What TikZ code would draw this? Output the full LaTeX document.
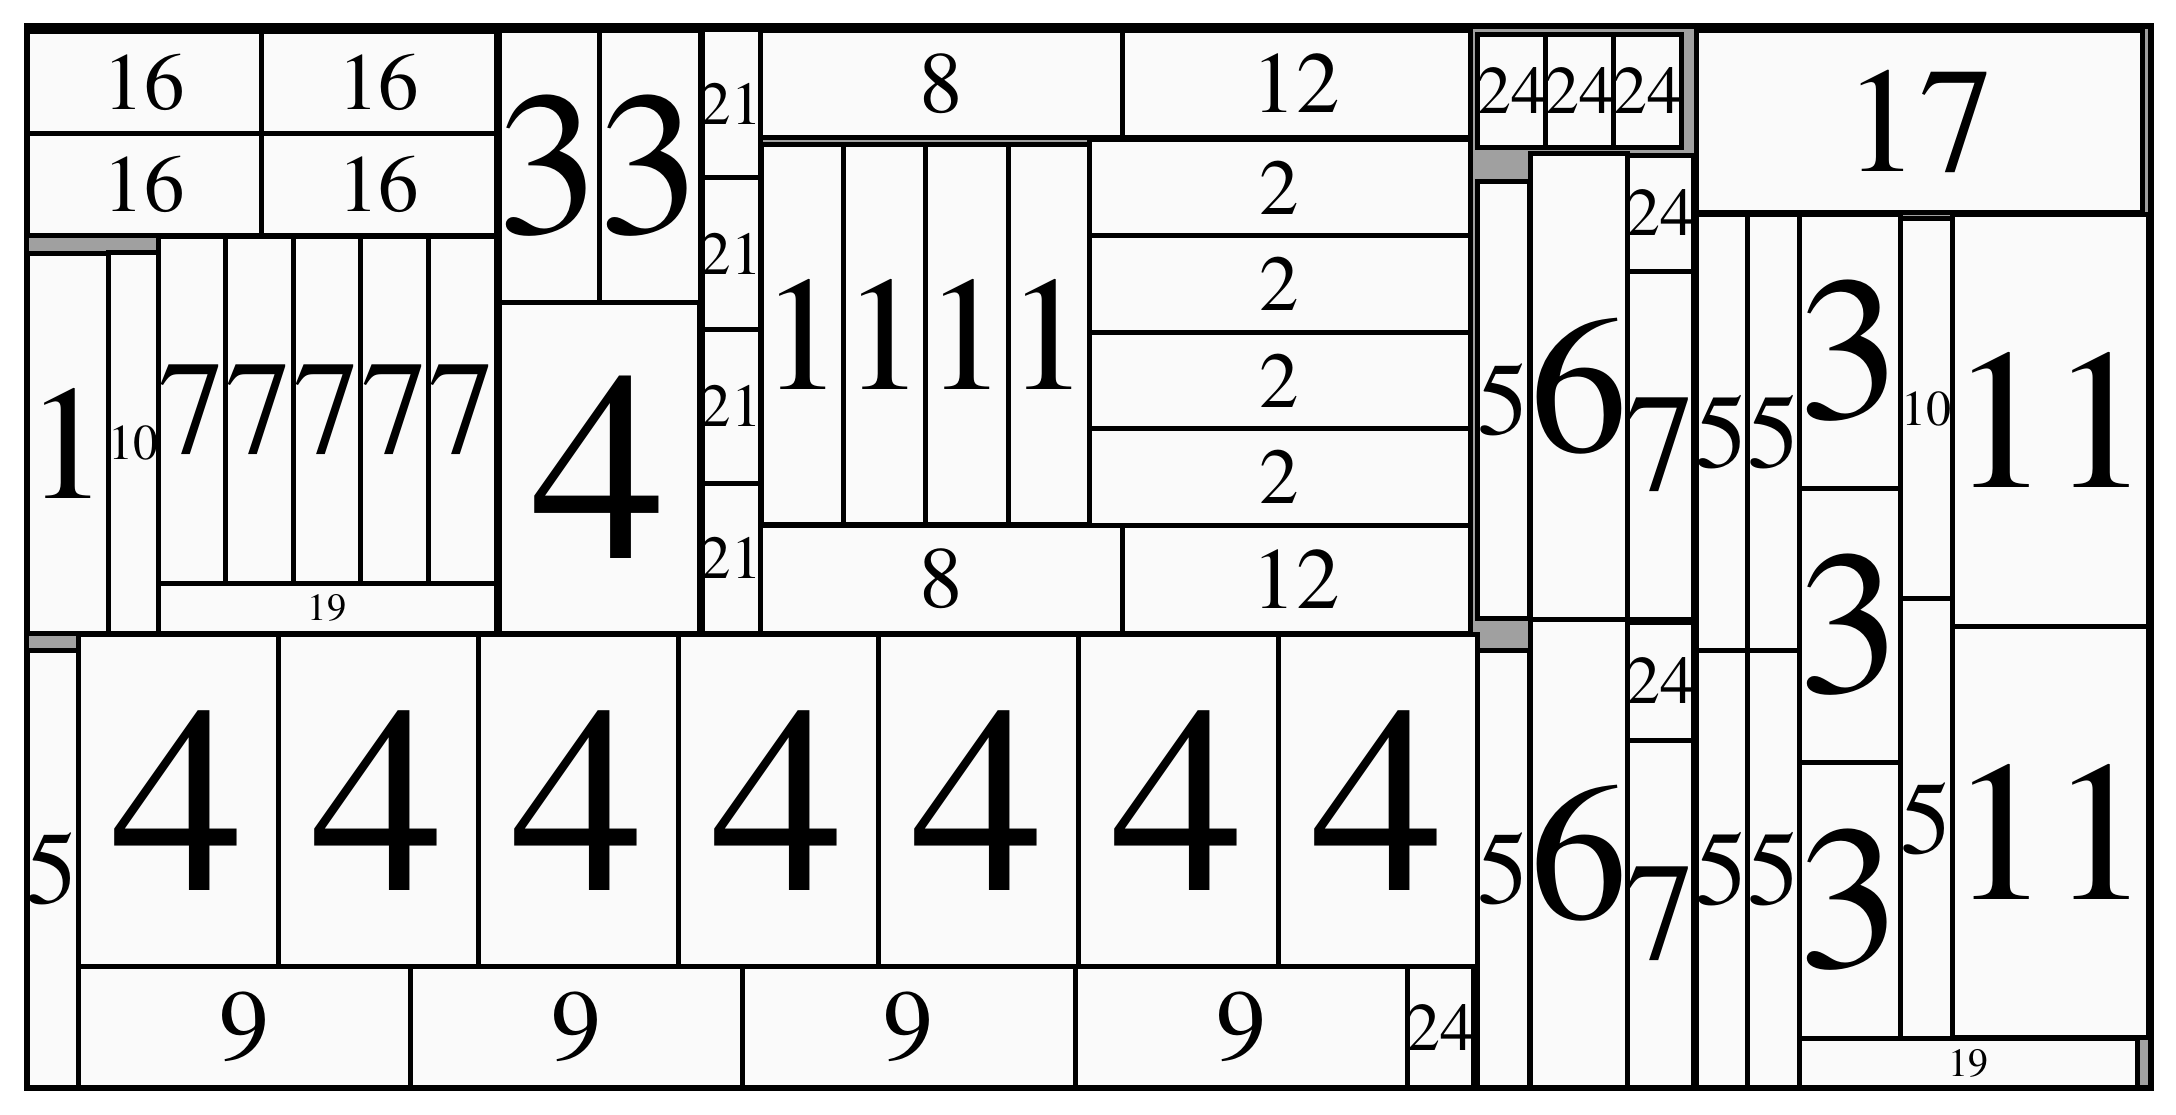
\documentclass[tikz,border=0pt]{standalone}
\usepackage{fontspec}
\setmainfont{texgyretermes-regular.otf}
\usepackage{xcolor}
\usepackage{tikz}
\definecolor{boxfill}{RGB}{250,250,250}
\definecolor{spare}{RGB}{160,160,160}

\begin{document}
\begin{tikzpicture}[
    x=1pt, y=-1pt,
    item/.style={
        % The box
        fill=boxfill,
        draw=black,
        line width=5pt},
    num/.style={
        % The number
        inner sep=0pt,
        font=\fontsize{#1}{#1}\selectfont}
  ]
  \useasboundingbox (0,0) rectangle (2176,1114);
  \fill[white] (0,0) rectangle (2176,1114);
  \fill[spare] (27,26.5) rectangle (2151,1088);%空余部分

  % left block
  \draw[item] (27,31.5) rectangle (261,133);
  \node (n16a) [num=81] at (144,82.3) {16};
  \draw[item] (261,31.5) rectangle (496,133);
  \node (n16b) [num=81] at (378.5,82.3) {16};
  \draw[item] (27,133) rectangle (261,235);
  \node (n16c) [num=81] at (144,184) {16};
  \draw[item] (261,133) rectangle (496,235);
  \node (n16d) [num=81] at (378.5,184) {16};
  \draw[item] (499,30) rectangle (599,302);
  \node (n3a) [num=205] at (549,166) {3};
  \draw[item] (599,30) rectangle (700,302);
  \node (n3b) [num=205] at (649.5,166) {3};
  \draw[item] (499,302) rectangle (699,633);
  \node (n4m) [num=270] at (599,467.5) {4};
  \draw[item] (702,29) rectangle (760,177.7);
  \node (n21a) [num=61] at (731,103.4) {21};
  \draw[item] (702,177.7) rectangle (760,329.5);
  \node (n21b) [num=61] at (731,253.6) {21};
  \draw[item] (702,329.5) rectangle (760,483);
  \node (n21c) [num=61] at (731,406.3) {21};
  \draw[item] (702,483) rectangle (760,633);
  \node (n21d) [num=61] at (731,558) {21};
  \draw[item] (27,253) rectangle (108,633);
  \node (n1l) [num=163] at (67.5,443) {1};
  \draw[item] (108,252) rectangle (158,633);
  \node (n10l) [num=50] at (133,442.5) {10};
  \draw[item] (158,236) rectangle (225.6,583);
  \node (n7a) [num=134] at (191.8,409.5) {7};
  \draw[item] (225.6,236) rectangle (293.2,583);
  \node (n7b) [num=134] at (259.4,409.5) {7};
  \draw[item] (293.2,236) rectangle (360.8,583);
  \node (n7c) [num=134] at (327,409.5) {7};
  \draw[item] (360.8,236) rectangle (428.4,583);
  \node (n7d) [num=134] at (394.6,409.5) {7};
  \draw[item] (428.4,236) rectangle (496,583);
  \node (n7e) [num=134] at (462.2,409.5) {7};
  \draw[item] (158,583) rectangle (496,633);
  \node (n19l) [num=38.5] at (327,608) {19};
  \draw[item] (27,650) rectangle (78,1088);
  \node (n5l) [num=103] at (52.5,869) {5};
  \draw[item] (78,634) rectangle (278,966.5);
  \node (n4a) [num=266] at (178,800.3) {4};
  \draw[item] (278,634) rectangle (478,966.5);
  \node (n4b) [num=266] at (378,800.3) {4};
  \draw[item] (478,634) rectangle (678,966.5);
  \node (n4c) [num=266] at (578,800.3) {4};
  \draw[item] (678,634) rectangle (878,966.5);
  \node (n4d) [num=266] at (778,800.3) {4};
  \draw[item] (878,634) rectangle (1078,966.5);
  \node (n4e) [num=266] at (978,800.3) {4};
  \draw[item] (1078,634) rectangle (1278,966.5);
  \node (n4f) [num=266] at (1178,800.3) {4};
  \draw[item] (1278,634) rectangle (1477,966.5);
  \node (n4g) [num=266] at (1377.5,800.3) {4};
  \draw[item] (78,966.5) rectangle (410,1088);
  \node (n9a) [num=100] at (244,1027) {9};
  \draw[item] (410,966.5) rectangle (742,1088);
  \node (n9b) [num=100] at (576,1027) {9};
  \draw[item] (742,966.5) rectangle (1075,1088);
  \node (n9c) [num=100] at (908.5,1027) {9};
  \draw[item] (1075,966.5) rectangle (1407,1088);
  \node (n9d) [num=100] at (1241,1027) {9};
  \draw[item] (1407,966.5) rectangle (1473,1088);
  \node (n24l) [num=68] at (1440,1027) {24};

  % middle block
  \draw[item] (760,30) rectangle (1122,137);
  \node (n8a) [num=87] at (941,83.5) {8};
  \draw[item] (1122,30) rectangle (1470,137);
  \node (n12a) [num=87] at (1296,83.5) {12};
  \draw[item] (761,144.6) rectangle (843,524);
  \node (n1a) [num=163] at (802,334.3) {1};
  \draw[item] (843,144.6) rectangle (925,524);
  \node (n1b) [num=163] at (884,334.3) {1};
  \draw[item] (925,144.6) rectangle (1008,524);
  \node (n1c) [num=163] at (966.5,334.3) {1};
  \draw[item] (1008,144.6) rectangle (1089,524);
  \node (n1d) [num=163] at (1048.5,334.3) {1};
  \draw[item] (1089,139) rectangle (1470,235.5);
  \node (n2a) [num=79] at (1279.5,187.3) {2};
  \draw[item] (1089,235.5) rectangle (1470,332);
  \node (n2b) [num=79] at (1279.5,283.8) {2};
  \draw[item] (1089,332) rectangle (1470,428.5);
  \node (n2c) [num=79] at (1279.5,380.3) {2};
  \draw[item] (1089,428.5) rectangle (1470,525);
  \node (n2d) [num=79] at (1279.5,476.8) {2};
  \draw[item] (760,525) rectangle (1122,633);
  \node (n8b) [num=87] at (941,579) {8};
  \draw[item] (1122,525) rectangle (1470,633);
  \node (n12b) [num=87] at (1296,579) {12};

  % right block
  \draw[item] (1477.6,34) rectangle (1545.6,147.5);
  \node (n24a) [num=68] at (1511.6,90.8) {24};
  \draw[item] (1545.6,34) rectangle (1613.7,147.5);
  \node (n24b) [num=68] at (1579.7,90.8) {24};
  \draw[item] (1613.7,34) rectangle (1681.8,147.5);
  \node (n24c) [num=68] at (1647.8,90.8) {24};
  \draw[item] (1477.6,181.4) rectangle (1529,618);
  \node (n5a) [num=103] at (1503.3,399.7) {5};
  \draw[item] (1530.6,153) rectangle (1627,619);
  \node (n6a) [num=195] at (1578.8,386) {6};
  \draw[item] (1627,155) rectangle (1693.5,271);
  \node (n24d) [num=68] at (1660.3,213) {24};
  \draw[item] (1627,271) rectangle (1693.5,619);
  \node (n7f) [num=140] at (1660.3,445) {7};
  \draw[item] (1477.6,650.4) rectangle (1529,1088);
  \node (n5b) [num=103] at (1503.3,869.2) {5};
  \draw[item] (1530.6,619) rectangle (1627,1088);
  \node (n6b) [num=195] at (1578.8,853.5) {6};
  \draw[item] (1627,622) rectangle (1693.5,740);
  \node (n24e) [num=68] at (1660.3,681) {24};
  \draw[item] (1627,740) rectangle (1693.5,1088);
  \node (n7g) [num=140] at (1660.3,914) {7};
  \draw[item] (1696,30) rectangle (2142,212.5);
  \node (n17) [num=150] at (1919,121.3) {17};
  \draw[item] (1696,214) rectangle (1747.5,650);
  \node (n5c) [num=105] at (1721.8,432) {5};
  \draw[item] (1747.5,214) rectangle (1799,650);
  \node (n5d) [num=105] at (1773.3,432) {5};
  \draw[item] (1696,650) rectangle (1747.5,1088);
  \node (n5e) [num=105] at (1721.8,869) {5};
  \draw[item] (1747.5,650) rectangle (1799,1088);
  \node (n5f) [num=105] at (1773.3,869) {5};
  \draw[item] (1799,214) rectangle (1900,488);
  \node (n3c) [num=205] at (1849.5,351) {3};
  \draw[item] (1799,488) rectangle (1900,762);
  \node (n3d) [num=205] at (1849.5,625) {3};
  \draw[item] (1799,762) rectangle (1900,1038);
  \node (n3e) [num=205] at (1849.5,900) {3};
  \draw[item] (1900,218.6) rectangle (1952,598.6);
  \node (n10r) [num=50] at (1926,408.6) {10};
  \draw[item] (1900,598.6) rectangle (1952,1038);
  \node (n5g) [num=103] at (1926,818.3) {5};
  \draw[item] (1952.7,214) rectangle (2148,626.5);
  \node (n11a) [num=200] at (2050.4,420.3) {11};
  \draw[item] (1952.7,626.5) rectangle (2148,1037);
  \node (n11b) [num=200] at (2050.4,831.8) {11};
  \draw[item] (1799,1038) rectangle (2137,1088);
  \node (n19r) [num=40] at (1968,1063) {19};

  \draw[line width=5.5pt] (26.5,26) rectangle (2151,1088);%外框
\end{tikzpicture}
\end{document}
